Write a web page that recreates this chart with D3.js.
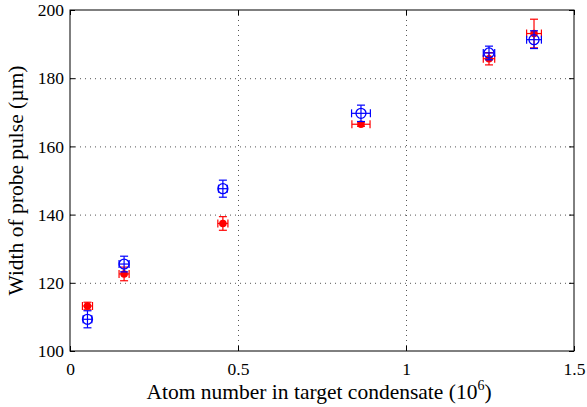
<!DOCTYPE html>
<html>
<head>
<meta charset="utf-8">
<script src="https://cdn.jsdelivr.net/npm/d3@7"></script>
<style>
body{margin:0;background:#fff;overflow:hidden}
svg{display:block}
text{font-family:"Liberation Serif","DejaVu Serif",serif}
</style>
</head>
<body>
<svg id="chart"></svg>
<script>
const width = 587
const height = 407
const margin = {top:10,right:13,bottom:56,left:70}
const innerWidth = width - margin.left - margin.right
const innerHeight = height - margin.top - margin.bottom

// atom number (10^6)
const atoms = [0.052, 0.161, 0.455, 0.866, 1.247, 1.381]
// blue open circles
const blueWidth = [109.3, 125.5, 147.6, 169.7, 187.4, 191.3]
const blueYerr = [2.5, 2.3, 2.5, 2.4, 2.0, 2.6]
const blueXerr = [0.013, 0.015, 0.013, 0.028, 0.017, 0.022]
// red filled circles
const redWidth = [113.2, 122.6, 137.4, 166.5, 185.7, 193.1]
const redYerr = [1.1, 2.0, 2.0, 0.6, 1.8, 4.2]
const redXerr = [0.015, 0.015, 0.015, 0.027, 0.017, 0.022]

const xTicks = [0, 0.5, 1, 1.5]
const yTicks = [100, 120, 140, 160, 180, 200]

const svg = d3.select('#chart')
  .attr('width', width)
  .attr('height', height)

const Xscale = d3.scaleLinear().domain([0, 1.5]).range([0, innerWidth])
const Yscale = d3.scaleLinear().domain([100, 200]).range([innerHeight, 0])

const g = svg.append('g')
  .attr('transform', `translate(${margin.left},${margin.top})`)

// grid
const gridX = d3.axisBottom(Xscale).tickValues(xTicks.slice(1, -1))
  .tickSize(-innerHeight).tickFormat('')
const gridY = d3.axisLeft(Yscale).tickValues(yTicks.slice(1, -1))
  .tickSize(-innerWidth).tickFormat('')
g.append('g').attr('transform', `translate(0,${innerHeight})`).call(gridX)
g.append('g').call(gridY)
g.selectAll('.domain').remove()
g.selectAll('.tick text').remove()
g.selectAll('.tick line')
  .attr('stroke', '#555')
  .attr('stroke-width', 1)
  .attr('stroke-dasharray', '1,4')

// axes with inward ticks
const xAxis = d3.axisBottom(Xscale).tickValues(xTicks).tickSizeInner(-5).tickSizeOuter(0)
  .tickPadding(12).tickFormat(d3.format('~g'))
const yAxis = d3.axisLeft(Yscale).tickValues(yTicks).tickSizeInner(-5).tickSizeOuter(0)
  .tickPadding(6)
const xTop = d3.axisTop(Xscale).tickValues(xTicks).tickSizeInner(-5).tickSizeOuter(0).tickFormat('')
const yRight = d3.axisRight(Yscale).tickValues(yTicks).tickSizeInner(-5).tickSizeOuter(0).tickFormat('')

const xAxisG = g.append('g').attr('transform', `translate(0,${innerHeight})`).call(xAxis)
const yAxisG = g.append('g').call(yAxis)
const topG = g.append('g').call(xTop)
const rightG = g.append('g').attr('transform', `translate(${innerWidth},0)`).call(yRight)
topG.selectAll('text').remove()
rightG.selectAll('text').remove()

;[xAxisG, yAxisG, topG, rightG].forEach(a => {
  a.attr('font-family', null)
  a.select('.domain').remove()
  a.selectAll('.tick line').attr('stroke', '#000')
  a.selectAll('text').attr('font-size', 17.5).attr('fill', '#000')
})

g.append('rect')
  .attr('width', innerWidth).attr('height', innerHeight)
  .attr('fill', 'none').attr('stroke', '#000').attr('stroke-width', 1)

// error bars
function errorBars(sel, ys, xerr, yerr, color){
  const cap = 4
  const grp = sel.append('g').attr('stroke', color).attr('stroke-width', 1.2).attr('fill', 'none')
  atoms.forEach((a, i) => {
    const cx = Xscale(a), cy = Yscale(ys[i])
    const y0 = Yscale(ys[i] - yerr[i]), y1 = Yscale(ys[i] + yerr[i])
    const x0 = Xscale(a - xerr[i]), x1 = Xscale(a + xerr[i])
    grp.append('line').attr('x1', cx).attr('x2', cx).attr('y1', y0).attr('y2', y1)
    grp.append('line').attr('x1', cx - cap).attr('x2', cx + cap).attr('y1', y0).attr('y2', y0)
    grp.append('line').attr('x1', cx - cap).attr('x2', cx + cap).attr('y1', y1).attr('y2', y1)
    grp.append('line').attr('x1', x0).attr('x2', x1).attr('y1', cy).attr('y2', cy)
    grp.append('line').attr('x1', x0).attr('x2', x0).attr('y1', cy - cap).attr('y2', cy + cap)
    grp.append('line').attr('x1', x1).attr('x2', x1).attr('y1', cy - cap).attr('y2', cy + cap)
  })
}

errorBars(g, redWidth, redXerr, redYerr, '#ff0000')
g.append('g').selectAll('circle')
  .data(atoms)
  .enter()
  .append('circle')
  .attr('cx', d => Xscale(d))
  .attr('cy', (d, i) => Yscale(redWidth[i]))
  .attr('r', 3.8)
  .attr('fill', '#ff0000')

errorBars(g, blueWidth, blueXerr, blueYerr, '#0000ff')
g.append('g').selectAll('circle')
  .data(atoms)
  .enter()
  .append('circle')
  .attr('cx', d => Xscale(d))
  .attr('cy', (d, i) => Yscale(blueWidth[i]))
  .attr('r', 5)
  .attr('fill', 'none')
  .attr('stroke', '#0000ff')
  .attr('stroke-width', 1.3)

// labels
const xl = svg.append('text')
  .attr('x', margin.left + innerWidth / 2 - 3)
  .attr('y', 399)
  .attr('text-anchor', 'middle')
  .attr('font-size', 21.5)
xl.append('tspan').text('Atom number in target condensate (10')
xl.append('tspan').text('6').attr('font-size', 14).attr('dy', -9)
xl.append('tspan').text(')').attr('dy', 9)

svg.append('text')
  .text('Width of probe pulse (\u00b5m)')
  .attr('text-anchor', 'middle')
  .attr('font-size', 21.5)
  .attr('transform', `translate(23,${margin.top + innerHeight / 2}) rotate(-90)`)
</script>
</body>
</html>
